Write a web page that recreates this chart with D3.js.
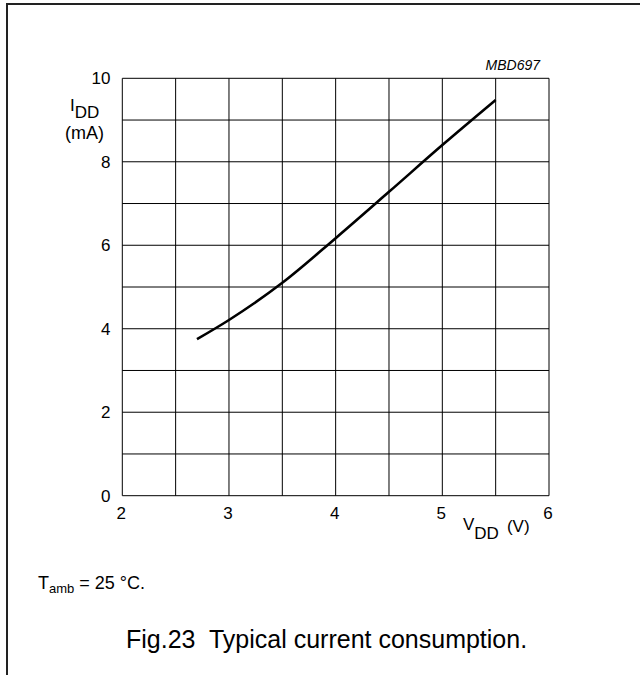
<!DOCTYPE html>
<html>
<head>
<meta charset="utf-8">
<script src="https://cdn.jsdelivr.net/npm/d3@7"></script>
<style>
  html, body { margin: 0; padding: 0; background: #fff; }
  svg { display: block; font-family: "Liberation Sans", Arial, sans-serif; }
  .grid line { stroke: #000; stroke-width: 1; }
  .tick-label { font-size: 17px; fill: #000; }
</style>
</head>
<body>
<svg id="chart"></svg>
<script>
// 1. data
var vddValues = [2.7, 3.0, 3.5, 4.0, 4.5, 5.0, 5.5];       // V
var iddValues = [3.75, 4.21, 5.10, 6.17, 7.28, 8.40, 9.48]; // mA
var xTickLabels = [2, 3, 4, 5, 6];
var yTickLabels = [0, 2, 4, 6, 8, 10];
var xGridValues = [2, 2.5, 3, 3.5, 4, 4.5, 5, 5.5, 6];
var yGridValues = [0, 1, 2, 3, 4, 5, 6, 7, 8, 9, 10];

// 2. svg and size
var width = 640;
var height = 675;
var svg = d3.select("#chart")
    .attr("width", width)
    .attr("height", height);

// frame (left and top edge only, like the page crop)
svg.append("path")
    .attr("d", "M7,675 V4 H640")
    .attr("fill", "none")
    .attr("stroke", "#222")
    .attr("stroke-width", 2);

// 3. scales
var x = d3.scaleLinear().domain([2, 6]).range([122.3, 549]);
var y = d3.scaleLinear().domain([0, 10]).range([495.7, 78.3]);

// 4. grid
var grid = svg.append("g").attr("class", "grid");
grid.selectAll(".vline")
    .data(xGridValues)
    .enter().append("line")
    .attr("x1", d => x(d)).attr("x2", d => x(d))
    .attr("y1", y(0)).attr("y2", y(10));
grid.selectAll(".hline")
    .data(yGridValues)
    .enter().append("line")
    .attr("x1", x(2)).attr("x2", x(6))
    .attr("y1", d => y(d)).attr("y2", d => y(d));

// 5. tick labels
svg.selectAll(".ylab")
    .data(yTickLabels)
    .enter().append("text")
    .attr("class", "tick-label")
    .attr("x", 110.5)
    .attr("y", d => y(d) + 6)
    .attr("text-anchor", "end")
    .text(d => d);

svg.selectAll(".xlab")
    .data(xTickLabels)
    .enter().append("text")
    .attr("class", "tick-label")
    .attr("x", d => x(d) - 1)
    .attr("y", 518.5)
    .attr("text-anchor", "middle")
    .text(d => d);

// 6. curve
var points = vddValues.map((v, i) => [v, iddValues[i]]);
svg.append("path")
    .datum(points)
    .attr("fill", "none")
    .attr("stroke", "#000")
    .attr("stroke-width", 2.6)
    .attr("d", d3.line()
        .x(d => x(d[0]))
        .y(d => y(d[1]))
        .curve(d3.curveMonotoneX));

// 7. axis titles
var yTitle = svg.append("text").attr("x", 70).attr("y", 111).style("font-size", "17px");
yTitle.append("tspan").text("I");
yTitle.append("tspan").attr("dy", 7).text("DD");
svg.append("text")
    .attr("x", 65).attr("y", 139)
    .style("font-size", "18px")
    .text("(mA)");

var xTitle = svg.append("text").attr("x", 463).attr("y", 530).style("font-size", "17px");
xTitle.append("tspan").text("V");
xTitle.append("tspan").attr("dy", 9).text("DD");
xTitle.append("tspan").attr("dy", -7).attr("dx", 8).text("(V)");

// figure code
svg.append("text")
    .attr("x", 540).attr("y", 70)
    .attr("text-anchor", "end")
    .style("font-size", "14px")
    .style("font-style", "italic")
    .text("MBD697");

// 8. note and caption
var note = svg.append("text").attr("x", 38).attr("y", 589).style("font-size", "18px");
note.append("tspan").text("T");
note.append("tspan").attr("dy", 4).style("font-size", "13px").text("amb");
note.append("tspan").attr("dy", -4).text(" = 25 \u00B0C.");

svg.append("text")
    .attr("x", 126)
    .attr("y", 648)
    .style("font-size", "25px")
    .style("white-space", "pre")
    .attr("xml:space", "preserve")
    .text("Fig.23  Typical current consumption.");
</script>
</body>
</html>
